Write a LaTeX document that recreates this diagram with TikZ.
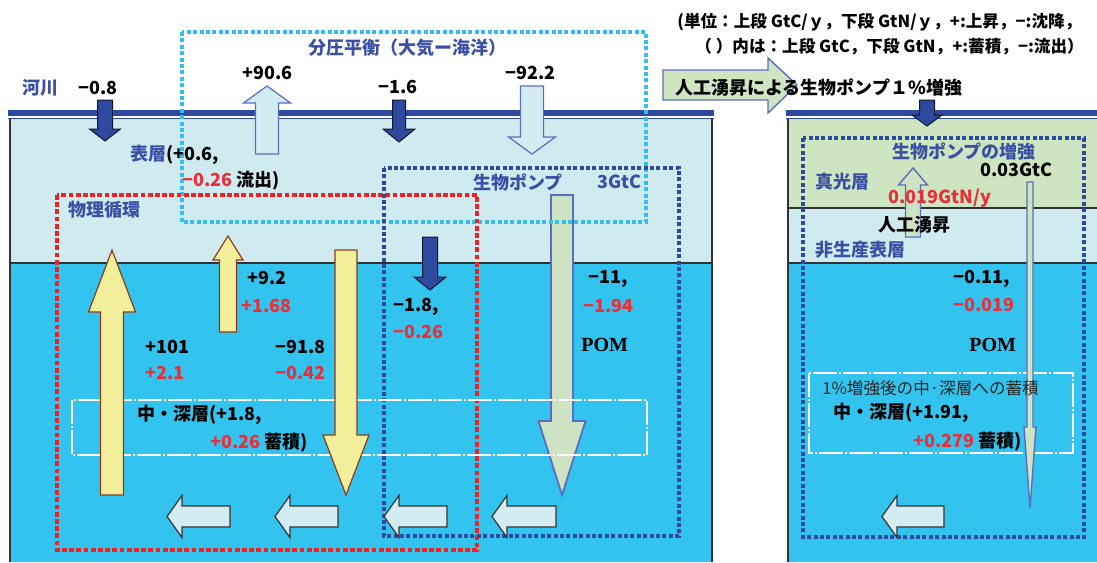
\documentclass[tikz,border=0pt]{standalone}
\usepackage{fontspec}
\setmainfont{Noto Sans CJK JP}
\newfontfamily\pomfont{Liberation Serif}
\definecolor{dkblue}{RGB}{46,74,158}
\definecolor{txtblue}{RGB}{58,80,165}
\definecolor{surf}{RGB}{208,235,240}
\definecolor{deep}{RGB}{50,195,238}
\definecolor{lgreen}{RGB}{205,229,192}
\definecolor{cyandot}{RGB}{50,190,240}
\definecolor{reddot}{RGB}{238,34,34}
\definecolor{redtxt}{RGB}{232,48,58}
\definecolor{yellowar}{RGB}{243,238,154}
\definecolor{brownline}{RGB}{140,60,30}
\definecolor{palear}{RGB}{210,236,242}
\definecolor{greenar}{RGB}{205,227,196}
\definecolor{arblue}{RGB}{90,110,190}
\definecolor{panelline}{RGB}{50,50,50}
\newcommand\BArrV[7]{\draw[#1] ({#2-#6},#3) -- ({#2+#6},#3) -- ({#2+#6},#4) -- ({#2+#7},#4) -- (#2,#5) -- ({#2-#7},#4) -- ({#2-#6},#4) -- cycle;}
\newcommand\BArrH[7]{\draw[#1] (#3,{#2-#6}) -- (#3,{#2+#6}) -- (#4,{#2+#6}) -- (#4,{#2+#7}) -- (#5,#2) -- (#4,{#2-#7}) -- (#4,{#2-#6}) -- cycle;}
\tikzset{
  darr/.style={fill=dkblue, draw=black!70!dkblue, line width=0.5pt},
  palearr/.style={fill=palear, draw=arblue, line width=0.6pt},
  yarr/.style={fill=yellowar, draw=brownline, line width=0.6pt},
  garr/.style={fill=greenar, draw=arblue, line width=0.9pt},
  gparr/.style={fill=greenar, draw=arblue, line width=0.7pt},
  barr/.style={fill=palear, draw=black!80, line width=0.6pt},
  cyanbox/.style={draw=cyandot, line width=2pt, dash pattern=on 2pt off 1.2pt},
  redbox/.style={draw=reddot, line width=2.4pt, dash pattern=on 2.4pt off 1.2pt},
  bluebox/.style={draw=dkblue, line width=2pt, dash pattern=on 2pt off 1.2pt},
  whitebox/.style={draw=white, line width=0.7pt, dash pattern=on 12pt off 1pt on 1pt off 1pt},
  pline/.style={draw=panelline, line width=0.6pt},
  t/.style={font=\bfseries\fontsize{9}{10}\selectfont, inner sep=0pt, anchor=west},
  tb/.style={t, text=txtblue},
  tr/.style={t, text=redtxt},
  ts/.style={font=\bfseries\fontsize{8.3}{9}\selectfont, inner sep=0pt, anchor=west},
  pom/.style={font=\pomfont\bfseries\fontsize{10}{11}\selectfont, inner sep=0pt, anchor=west},
}
\begin{document}
\begin{tikzpicture}[x=0.5pt,y=-0.5pt]
\useasboundingbox (0,0) rectangle (1097,562);
% ---------- left panel background
\fill[surf] (10,119) rectangle (712,263);
\fill[deep] (10,263) rectangle (712,562);
\draw[pline] (10,119) -- (10,562);
\draw[pline] (712,119) -- (712,562);
\draw[pline] (10,263) -- (712,263);
\fill[dkblue] (8,110) rectangle (714,115.5);
\draw[dkblue, line width=0.6pt] (8,118.5) -- (714,118.5);
% ---------- right panel background
\fill[lgreen] (788,119) rectangle (1097,208);
\fill[surf] (788,208) rectangle (1097,263);
\fill[deep] (788,263) rectangle (1097,562);
\draw[pline] (788,119) -- (788,562);
\draw[pline] (788,208) -- (1097,208);
\draw[pline] (788,263) -- (1097,263);
\fill[dkblue] (786,110) rectangle (1097,115.5);
\draw[dkblue, line width=0.6pt] (786,118.5) -- (1097,118.5);
% ---------- POM arrow (under boxes)
\BArrV{garr}{562}{195}{421}{495}{11}{23.5}
% ---------- dotted boxes
\draw[cyanbox] (182,32) rectangle (646,222);
\draw[redbox] (57,195) rectangle (477,550);
\draw[bluebox] (384,168) rectangle (679,536);
\draw[bluebox] (803,138) rectangle (1084,537);
\draw[whitebox] (72,400) rectangle (647,455);
\draw[whitebox] (809,373) rectangle (1073,453);
% ---------- arrows
\BArrV{darr}{105}{100}{129}{141}{7.5}{15.5}
\BArrV{palearr}{267}{154}{103}{86}{11.5}{23.5}
\BArrV{darr}{399}{100}{129}{142}{6.5}{16}
\BArrV{palearr}{532}{86}{137}{154}{11.5}{23.5}
\BArrV{yarr}{112}{495}{312}{250}{11.5}{23.5}
\BArrV{yarr}{228}{332}{260}{236}{8.5}{15}
\BArrV{yarr}{346}{250}{435}{495}{11}{23}
\BArrV{darr}{430}{237}{277}{290}{7.5}{16}
\BArrH{barr}{516.5}{230}{182}{167}{10.5}{21}
\BArrH{barr}{516.5}{338}{290}{275}{10.5}{21}
\BArrH{barr}{516.5}{447}{399}{384}{10.5}{21}
\BArrH{barr}{516.5}{556}{507}{492}{10.5}{21}
\BArrH{barr}{516.5}{944}{897}{882}{10.5}{21}
\BArrV{darr}{927}{100}{115}{126}{7.5}{15}
\BArrV{gparr}{913}{237}{185}{168}{7.5}{14.5}
\BArrV{gparr}{1030}{182}{427}{508}{3}{6}
\draw[fill=lgreen, draw=arblue, line width=0.7pt] (663,70) -- (768,70) -- (768,58) -- (797,85) -- (768,113) -- (768,100) -- (663,100) -- cycle;
% ---------- texts top
\node[tb] (kasen) at (22,88) {河川};
\node[t] (v08) at (78,88) {−0.8};
\node[t] (v906) at (242,73) {+90.6};
\node[t] (v16) at (378,87) {−1.6};
\node[t] (v922) at (505,73) {−92.2};
\node[tb, anchor=center] (bunatsu) at (407,48) {分圧平衡（大気ー海洋）};
\node[ts] (unit1) at (677,22) {(単位：上段 GtC/ｙ，下段 GtN/ｙ，+:上昇，−:沈降，};
\node[ts] (unit2) at (695,47) {（ ）内は：上段 GtC，下段 GtN，+:蓄積，−:流出）};
\node[t] (jinko) at (675,88) {人工湧昇による生物ポンプ１\%増強};
% ---------- left panel texts
\node[t] (hyoso) at (130,155) {\textcolor{txtblue}{表層}(+0.6,};
\node[t] (hyoso2) at (182,181) {\textcolor{redtxt}{−0.26} 流出)};
\node[tb] (butsuri) at (68,210) {物理循環};
\node[tb] (seibutsu) at (473,182) {生物ポンプ};
\node[tb] (g3) at (597,182) {3GtC};
\node[t] (v92) at (247,278) {+9.2};
\node[tr] (v168) at (241,306) {+1.68};
\node[t] (v101) at (145,347) {+101};
\node[tr] (v21) at (145,373) {+2.1};
\node[t] (v918) at (275,347) {−91.8};
\node[tr] (v042) at (275,373) {−0.42};
\node[t] (v18) at (393,307) {−1.8,};
\node[tr] (v026) at (393,332) {−0.26};
\node[t] (v11) at (588,279) {−11,};
\node[tr] (v194) at (583,306) {−1.94};
\node[pom] (pom1) at (581,345) {POM};
\node[t] (deep1) at (137,415) {中・深層(+1.8,};
\node[t] (deep2) at (210,443) {\textcolor{redtxt}{+0.26} 蓄積)};
% ---------- right panel texts
\node[tb] (zokyo) at (892,152) {生物ポンプの増強};
\node[t] (g003) at (980,170) {0.03GtC};
\node[tb] (shinko) at (815,182) {真光層};
\node[tr] (v0019) at (888,198) {0.019GtN/y};
\node[t] (yusho) at (878,225) {人工湧昇};
\node[tb] (hiseisan) at (815,250) {非生産表層};
\node[t] (v011) at (953,279) {−0.11,};
\node[tr] (v0019b) at (953,305) {−0.019};
\node[pom] (pom2) at (969,345) {POM};
\node[font=\fontsize{8.3}{9}\selectfont, inner sep=0pt, anchor=west, text=black!85] (after) at (822,388) {1\%増強後の中·深層への蓄積};
\node[t] (deep3) at (833,413) {中・深層(+1.91,};
\node[t] (deep4) at (913,442) {\textcolor{redtxt}{+0.279} 蓄積)};
\end{tikzpicture}
\end{document}
